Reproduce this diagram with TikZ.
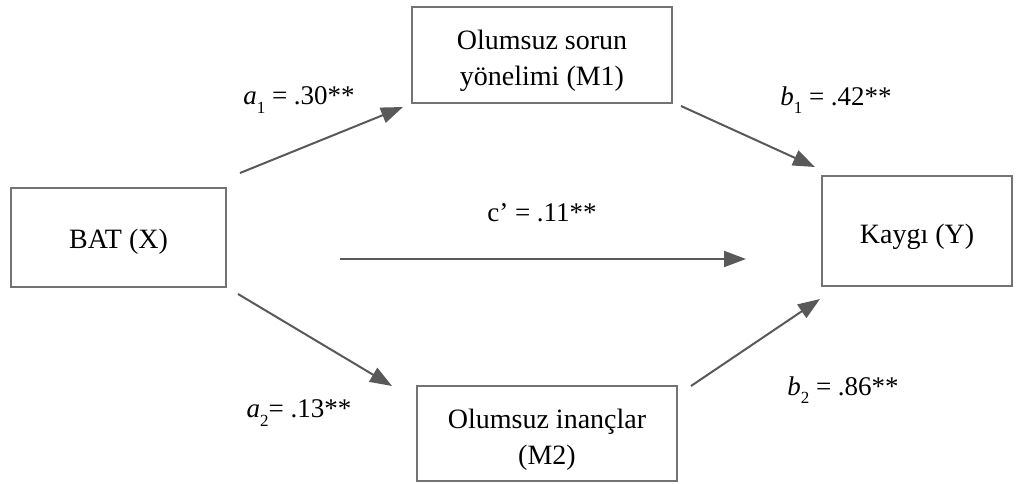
\documentclass[tikz,border=0pt]{standalone}
\usepackage{fontspec}
\setmainfont{Liberation Serif}
\usetikzlibrary{arrows.meta}
\newcommand{\lowsub}[1]{\raisebox{-0.32em}{\fontsize{17}{17}\selectfont #1}}
\begin{document}
\begin{tikzpicture}[x=1pt,y=-1pt,
  box/.style={draw=black!55, line width=1.8pt, rectangle, inner sep=0pt},
  txt/.style={align=center, inner sep=0pt, font=\fontsize{28}{36}\selectfont},
  conn/.style={draw=black!65, line width=2pt, -{Triangle[length=22pt,width=16pt]}},
  lbl/.style={font=\fontsize{27}{30}\selectfont, inner sep=0pt}]
\useasboundingbox (0,0) rectangle (1023,483);
\node[box, minimum width=215pt, minimum height=99pt] (x) at (118.5,237.5) {};
\node[box, minimum width=260pt, minimum height=96pt] (m1) at (542,55) {};
\node[box, minimum width=190pt, minimum height=110pt] (y) at (917,231) {};
\node[box, minimum width=260pt, minimum height=95pt] (m2) at (547,433.5) {};
\node[txt] (tx) at ([yshift=-4pt]x.center) {BAT (X)};
\node[txt] (tm1) at ([yshift=-6pt]m1.center) {Olumsuz sorun\\yönelimi (M1)};
\node[txt] (ty) at ([yshift=-6pt]y.center) {Kaygı (Y)};
\node[txt] (tm2) at ([yshift=-6pt]m2.center) {Olumsuz inançlar\\(M2)};
\coordinate (a1s) at (240,173); \coordinate (a1e) at (403,107);
\coordinate (b1s) at (681,106); \coordinate (b1e) at (815,167);
\coordinate (cs) at (340,259); \coordinate (ce) at (746,259);
\coordinate (a2s) at (238,294); \coordinate (a2e) at (392,386);
\coordinate (b2s) at (691,386); \coordinate (b2e) at (820,299);
\draw[conn] (a1s) -- (a1e);
\draw[conn] (b1s) -- (b1e);
\draw[conn] (cs) -- (ce);
\draw[conn] (a2s) -- (a2e);
\draw[conn] (b2s) -- (b2e);
\node[lbl] (la1) at (299,100) {\textit{a}\lowsub{1} = .30**};
\node[lbl] (lb1) at (836,100) {\textit{b}\lowsub{1} = .42**};
\node[lbl] (lc) at (542,213) {c’ = .11**};
\node[lbl] (la2) at (299,413) {\textit{a}\lowsub{2}= .13**};
\node[lbl] (lb2) at (843,390) {\textit{b}\lowsub{2} = .86**};
\end{tikzpicture}
\end{document}
